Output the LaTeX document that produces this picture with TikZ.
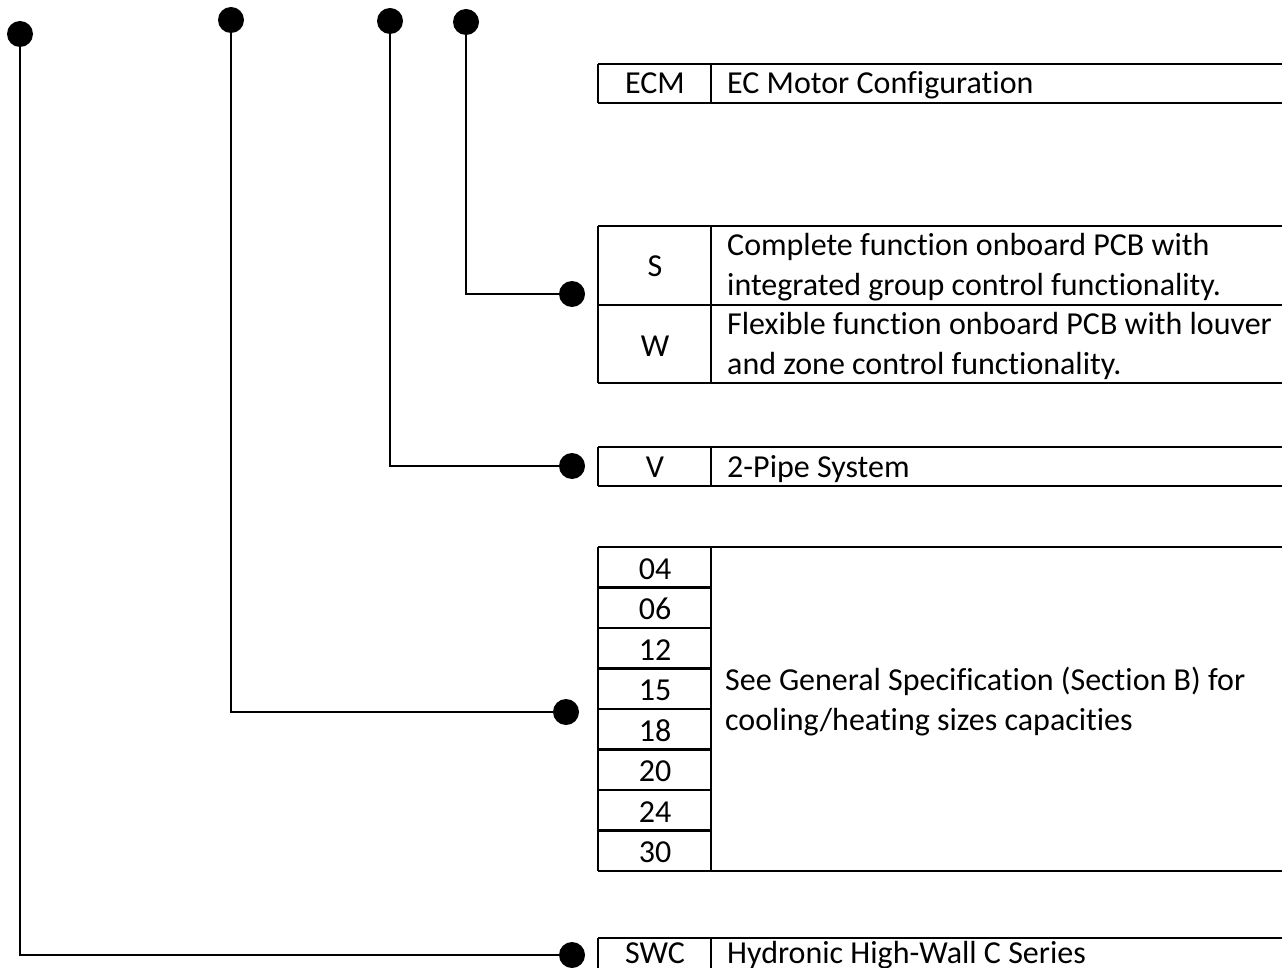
\documentclass[tikz,border=0pt]{standalone}
\usepackage{fontspec}
\setmainfont[Ligatures=NoCommon]{Carlito}
\begin{document}
\begin{tikzpicture}[x=1pt,y=-1pt,
  leaddot/.style={circle,fill=black,inner sep=0pt,minimum size=26pt},
  lead/.style={line width=2.8pt},
  heavyrule/.style={line width=2.8pt},
  lightrule/.style={line width=1.1pt},
  codetext/.style={font=\fontsize{32}{40}\selectfont,inner sep=0pt,
    text height=20pt,text depth=0pt,anchor=center},
  desctext/.style={font=\fontsize{32}{40}\selectfont,inner sep=0pt,
    anchor=west,align=left}]
\useasboundingbox (0,0) rectangle (1282,968);

% ---- leader dots along the top and at the table ends ----
\node[leaddot] (t1) at (20,34) {};
\node[leaddot] (t2) at (231,20) {};
\node[leaddot] (t3) at (390,21) {};
\node[leaddot] (t4) at (466,22) {};
\node[leaddot] (e4) at (572,294) {};
\node[leaddot] (e3) at (572,466) {};
\node[leaddot] (e2) at (566,712) {};
\node[leaddot] (e1) at (572,955) {};

% ---- leaders ----
\draw[lead] (t4.center) |- (e4.center);
\draw[lead] (t3.center) |- (e3.center);
\draw[lead] (t2.center) |- (e2.center);
\draw[lead] (t1.center) |- (e1.center);

% ---- motor table ----
\draw[heavyrule] (598,64) -- (1282,64) (598,103) -- (1282,103);
\draw[lightrule] (598,64) -- (598,103) (711,64) -- (711,103);
\node[codetext] (ecm) at (655,84) {ECM};
\node[codetext,anchor=west] (ecmd) at (727,84) {EC Motor Configuration};

% ---- control board table ----
\draw[heavyrule] (598,226) -- (1282,226) (598,305) -- (1282,305) (598,383) -- (1282,383);
\draw[lightrule] (598,226) -- (598,383) (711,226) -- (711,383);
\node[codetext] (s) at (655,267) {S};
\node[desctext] (sd) at (727,267) {Complete function onboard PCB with\\integrated group control functionality.};
\node[codetext] (w) at (655,346) {W};
\node[desctext] (wd) at (727,346) {Flexible function onboard PCB with louver\\and zone control functionality.};

% ---- pipe system table ----
\draw[heavyrule] (598,447) -- (1282,447) (598,486) -- (1282,486);
\draw[lightrule] (598,447) -- (598,486) (711,447) -- (711,486);
\node[codetext] (v) at (655,467) {V};
\node[codetext,anchor=west] (vd) at (727,467) {2-Pipe System};

% ---- size table ----
\draw[heavyrule] (598,547) -- (1282,547) (598,871) -- (1282,871);
\foreach \k in {1,...,7}
  \draw[heavyrule] (598,{547+40.5*\k}) -- (711,{547+40.5*\k});
\draw[lightrule] (598,547) -- (598,871) (711,547) -- (711,871);
\foreach \c [count=\k from 0] in {04,06,12,15,18,20,24,30}
  \node[codetext] (sz\c) at (655,{569+40.5*\k}) {\c};
\node[desctext] (szd) at (725,702) {See General Specification (Section B) for\\cooling/heating sizes capacities};

% ---- series table ----
\draw[heavyrule] (598,938) -- (1282,938);
\draw[lightrule] (598,938) -- (598,968) (711,938) -- (711,968);
\node[codetext] (swc) at (655,953) {SWC};
\node[codetext,anchor=west] (swcd) at (727,953) {Hydronic High-Wall C Series};
\end{tikzpicture}
\end{document}
